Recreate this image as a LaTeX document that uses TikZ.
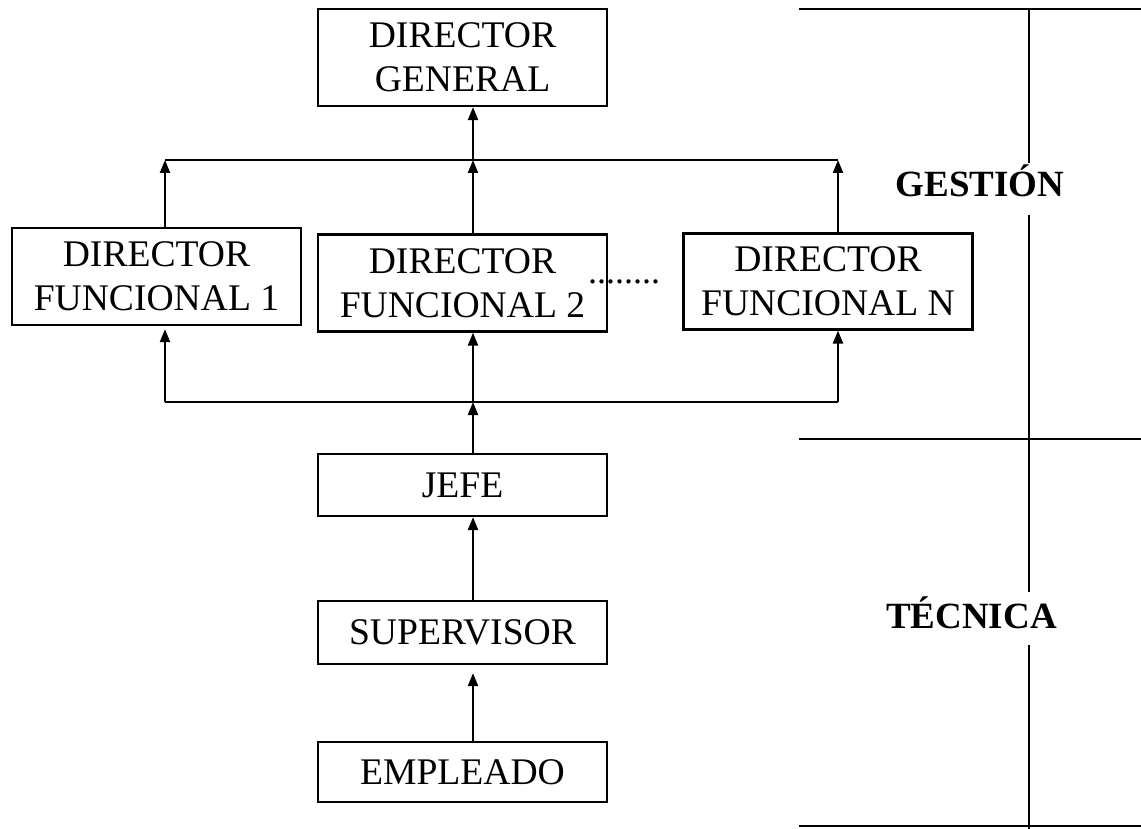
\documentclass[tikz,border=0pt]{standalone}
\usepackage{fontspec}
\setmainfont{Liberation Serif}
\usetikzlibrary{arrows.meta,positioning,calc}

\begin{document}
\begin{tikzpicture}[x=0.5pt,y=-0.5pt,
  caja/.style={draw,line width=1.1pt,minimum width=144.5pt,inner sep=0pt,align=center,font=\fontsize{18.8}{22}\selectfont},
  flecha/.style={line width=1.1pt,-{Triangle[length=6.5pt,width=5pt]}},
  bus/.style={line width=1.1pt},
  linea/.style={line width=1.3pt},
  nivel/.style={anchor=base,inner sep=0pt,font=\fontsize{18.5}{22}\selectfont\bfseries}]
\useasboundingbox (0,0) rectangle (1141,829);
% cajas
\node[caja,minimum height=48.5pt] (dg) at (462.5,57.5) {DIRECTOR\\GENERAL};
\node[caja,minimum height=48.5pt] (df1) at (156.5,276.5) {DIRECTOR\\FUNCIONAL 1};
\node[caja,minimum height=48.5pt] (df2) at (462.5,283) {DIRECTOR\\FUNCIONAL 2};
\node[caja,minimum height=48pt] (dfn) at (828,281.5) {DIRECTOR\\FUNCIONAL N};
\node[caja,minimum height=31pt] (jefe) at (462.5,485) {JEFE};
\node[caja,minimum height=31.5pt] (sup) at (462.5,632.5) {SUPERVISOR};
\node[caja,minimum height=30pt] (emp) at (462.5,772) {EMPLEADO};
\node[anchor=base,inner sep=0pt,font=\fontsize{18}{22}\selectfont] (dots) at (624,283) {........};
% buses
\coordinate (t1) at (165,160);
\coordinate (t2) at (473,160);
\coordinate (tn) at (838,160);
\coordinate (b1) at (165,402);
\coordinate (b2) at (473,402);
\coordinate (bn) at (838,402);
\draw[bus] (t1) -- (tn);
\draw[bus] (b1) -- (bn);
% flechas
\draw[flecha] (t2) -- (t2 |- dg.south);
\draw[flecha] (df1.north -| t1) -- (t1);
\draw[flecha] (df2.north -| t2) -- (t2);
\draw[flecha] (dfn.north -| tn) -- (tn);
\draw[flecha,shorten >=1.5pt] (b1) -- (b1 |- df1.south);
\draw[flecha] (b2) -- (b2 |- df2.south);
\draw[flecha] (bn) -- (bn |- dfn.south);
\draw[flecha] (jefe.north -| b2) -- (b2);
\draw[flecha] (sup.north -| b2) -- (b2 |- jefe.south);
\draw[flecha,shorten >=4pt] (emp.north -| b2) -- (b2 |- sup.south);
% niveles
\node[nivel] (gestion) at (980,197) {GESTIÓN};
\node[nivel] (tecnica) at (971.5,628) {TÉCNICA};
\draw[linea] (799,9) -- (1141,9);
\draw[linea] (799,439) -- (1141,439);
\draw[linea] (799,826) -- (1141,826);
\draw[linea] (1029,9) -- (1029,163);
\draw[linea] (1029,215) -- (1029,592);
\draw[linea] (1029,645) -- (1029,829);
\end{tikzpicture}
\end{document}
